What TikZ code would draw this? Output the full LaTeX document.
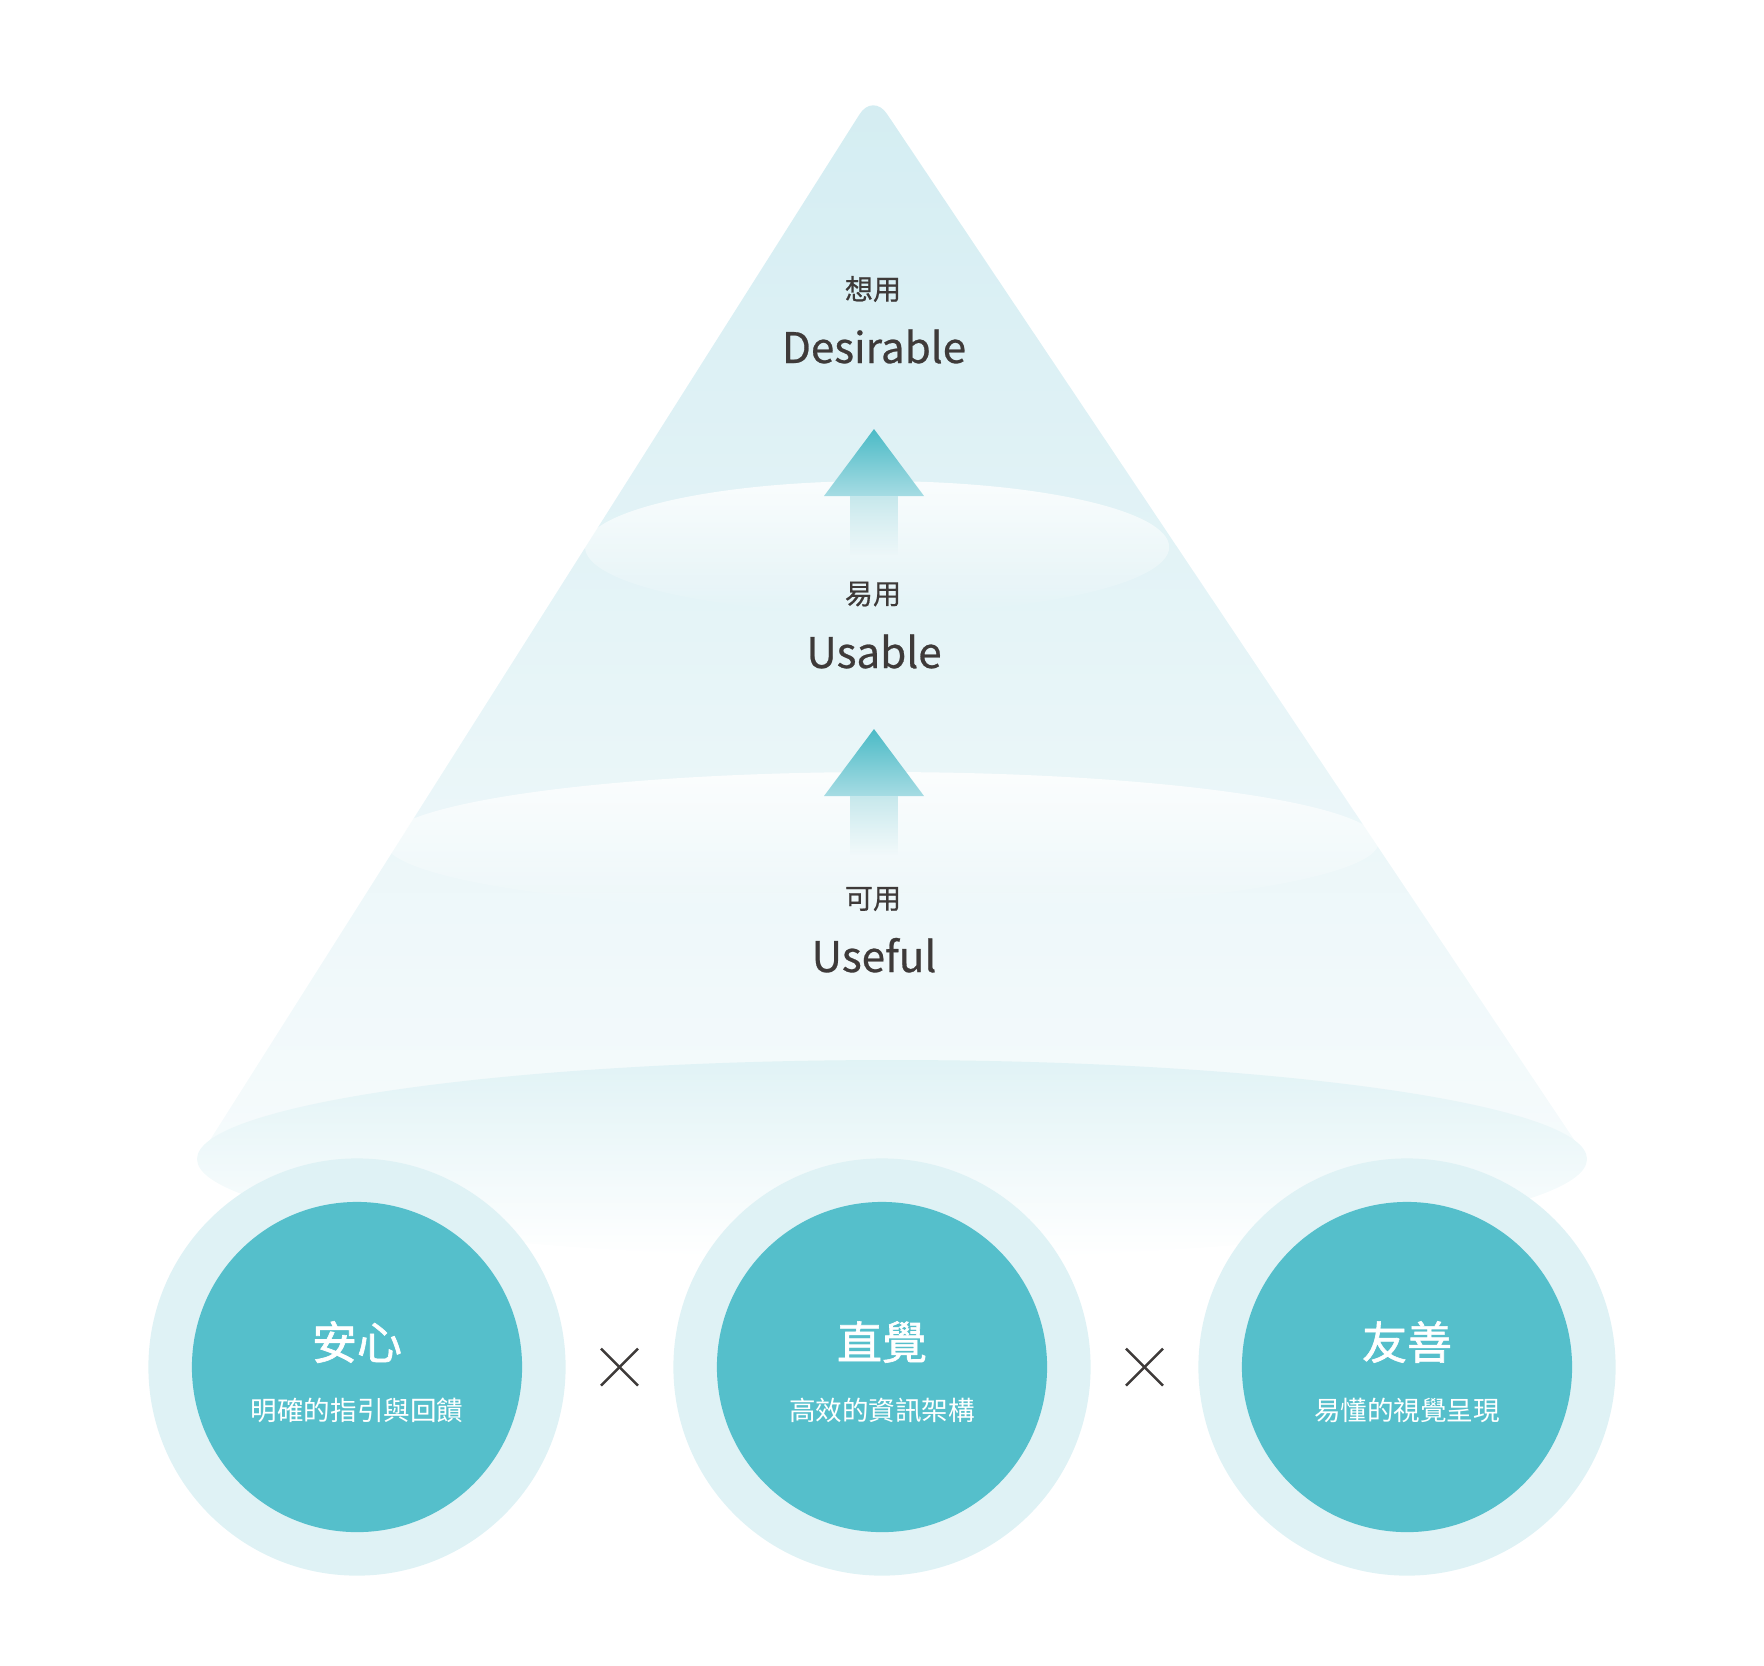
\documentclass[tikz,border=0pt]{standalone}
\usepackage{fontspec}
\usepackage{xcolor}
\usepackage{tikz}
\usetikzlibrary{shapes,arrows,positioning,calc,fadings}
\newfontfamily\cjkfont{Noto Sans CJK TC}
\newfontfamily\cjkmedium[FakeBold=0.6]{Noto Sans CJK TC}
\newfontfamily\cjkheavy[FakeBold=1.4]{Noto Sans CJK TC}
\definecolor{lagoon}{RGB}{85, 191, 203}
\definecolor{ringblue}{RGB}{223, 242, 245}
\definecolor{conetop}{RGB}{212, 237, 242}
\definecolor{conemid}{RGB}{233, 246, 248}
\definecolor{conebase}{RGB}{246, 251, 252}
\definecolor{inkgray}{RGB}{62, 58, 57}
\definecolor{arrowtip}{RGB}{75, 186, 198}
\definecolor{arrowbase}{RGB}{166, 220, 227}
\definecolor{arrowshaft}{RGB}{198, 232, 236}
\tikzfading[name=shaftfade, top color=transparent!0, bottom color=transparent!100]
\tikzfading[name=discfade, top color=transparent!15, bottom color=transparent!100]

\begin{document}
\begin{tikzpicture}[x=0.01cm, y=0.01cm,
    level/.style={font=\cjkmedium\fontsize{8}{9.6}\selectfont, text=inkgray},
    levelname/.style={font=\cjkmedium\fontsize{12}{14}\selectfont, text=inkgray, anchor=base},
    ring/.style={circle, fill=ringblue, minimum size=4.17cm, inner sep=0pt},
    core/.style={circle, fill=lagoon, minimum size=3.30cm, inner sep=0pt},
    pillar/.style={font=\cjkheavy\fontsize{12.8}{15}\selectfont, text=white},
    pillarnote/.style={font=\cjkfont\fontsize{7.55}{9}\selectfont, text=white},
    times/.style={line width=0.7pt, inkgray}]
    \useasboundingbox (0,0) rectangle (1764,-1665);

    % Cone
    \shade[top color=conetop, middle color=conemid, bottom color=conebase]
        (198,-1159) [rounded corners=0.25cm] -- (873,-93) [sharp corners] -- (1587,-1159) -- cycle;

    % Discs
    \fill[white, path fading=discfade] (877,-547) ellipse [x radius=292, y radius=66];
    \fill[white, path fading=discfade] (882,-842) ellipse [x radius=497, y radius=70];
    \shade[top color=ringblue!85!conemid, middle color=conemid, bottom color=white] (892,-1159) ellipse [x radius=695, y radius=99];

    % Up arrows
    \foreach \tip in {429, 729} {
        \shade[top color=arrowtip, bottom color=arrowbase] (874,-\tip) -- (924,-\tip-67) -- (824,-\tip-67) -- cycle;
        \fill[arrowshaft, path fading=shaftfade] (850,-\tip-67) rectangle (898,-\tip-126);
    }

    % Levels
    \node[level] (want) at (873,-289) {想用};
    \node[levelname] (desirable) at (874,-363) {Desirable};
    \node[level] (easy) at (873,-594) {易用};
    \node[levelname] (usable) at (874,-668) {Usable};
    \node[level] (can) at (873,-899) {可用};
    \node[levelname] (useful) at (874,-972) {Useful};

    % Pillars
    \node[ring] (safering) at (357,-1367) {};
    \node[core] (safe) at (357,-1367) {};
    \node[pillar] (safetitle) at ($(safe)+(0,25)$) {安心};
    \node[pillarnote] (safenote) at ($(safe)+(0,-43)$) {明確的指引與回饋};

    \node[ring] (intuitivering) at (882,-1367) {};
    \node[core] (intuitive) at (882,-1367) {};
    \node[pillar] (intuitivetitle) at ($(intuitive)+(0,25)$) {直覺};
    \node[pillarnote] (intuitivenote) at ($(intuitive)+(0,-43)$) {高效的資訊架構};

    \node[ring] (friendlyring) at (1407,-1367) {};
    \node[core] (friendly) at (1407,-1367) {};
    \node[pillar] (friendlytitle) at ($(friendly)+(0,25)$) {友善};
    \node[pillarnote] (friendlynote) at ($(friendly)+(0,-43)$) {易懂的視覺呈現};

    % Times signs
    \coordinate (timesleft) at ($(safe)!0.5!(intuitive)$);
    \coordinate (timesright) at ($(intuitive)!0.5!(friendly)$);
    \foreach \c in {timesleft, timesright} {
        \draw[times] ($(\c)+(-18.5,18.5)$) -- ($(\c)+(18.5,-18.5)$);
        \draw[times] ($(\c)+(-18.5,-18.5)$) -- ($(\c)+(18.5,18.5)$);
    }
\end{tikzpicture}
\end{document}
